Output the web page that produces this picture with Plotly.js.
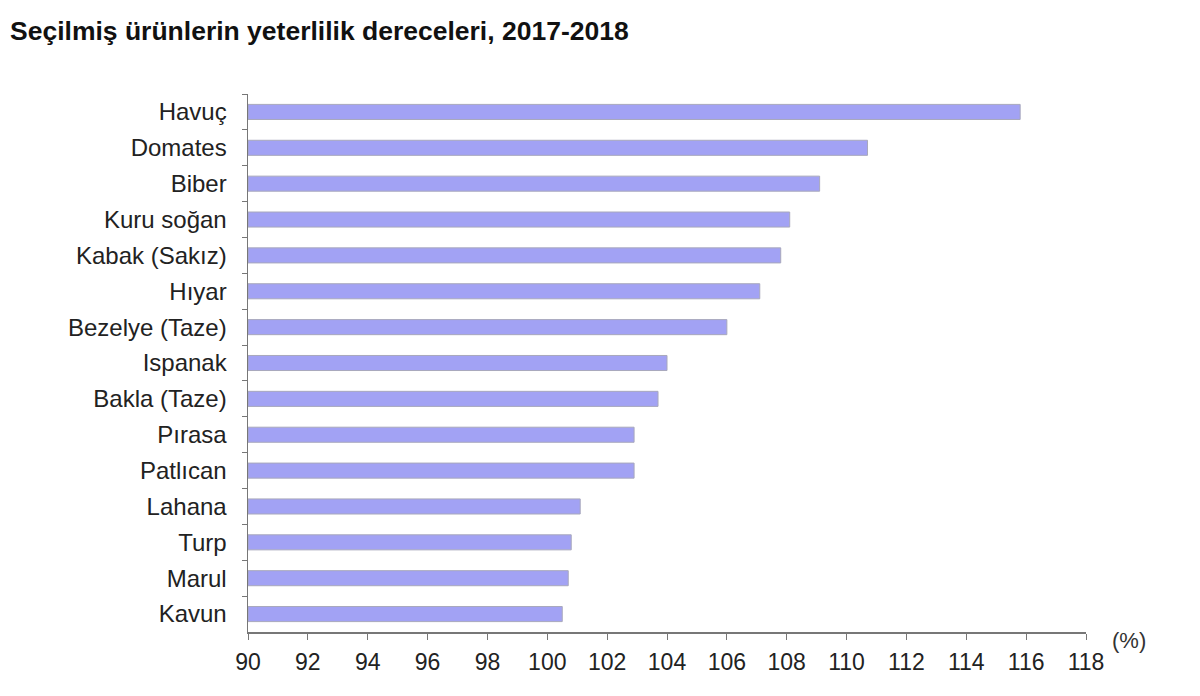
<!DOCTYPE html>
<html>
<head>
<meta charset="utf-8">
<script src="https://cdn.plot.ly/plotly-3.0.1.min.js"></script>
<style>html,body{margin:0;padding:0;background:#fff;}#chart{width:1200px;height:696px;}</style>
</head>
<body>
<div id="chart"></div>
<script>
const categories = ["Havuç","Domates","Biber","Kuru soğan","Kabak (Sakız)","Hıyar","Bezelye (Taze)","Ispanak","Bakla (Taze)","Pırasa","Patlıcan","Lahana","Turp","Marul","Kavun"];
const values = [115.8,110.7,109.1,108.1,107.8,107.1,106.0,104.0,103.7,102.9,102.9,101.1,100.8,100.7,100.5];
const xTicks = [90,92,94,96,98,100,102,104,106,108,110,112,114,116,118];

const baseVal = 90;
const trace = {
  type: 'bar',
  orientation: 'h',
  y: categories,
  x: values.map(v => v - baseVal),
  base: baseVal,
  width: 0.42,
  marker: {color: '#a2a2f4', line: {color: '#a8a8bc', width: 1}},
  hoverinfo: 'y+text',
  text: values.map(String),
  textposition: 'none'
};

const layout = {
  width: 1200, height: 696,
  margin: {l: 248, r: 114, t: 94, b: 64},
  paper_bgcolor: '#fff', plot_bgcolor: '#fff',
  font: {family: 'Liberation Sans, Arial, sans-serif', color: '#222', size: 23},
  title: {text: '<b>Seçilmiş ürünlerin yeterlilik dereceleri, 2017-2018</b>', xref: 'container', x: 10/1200, xanchor: 'left', yref: 'container', y: 1 - 31/696, yanchor: 'middle', font: {size: 26.5, color: '#111'}},
  showlegend: false,
  xaxis: {
    range: [90, 118], tickvals: xTicks, ticktext: xTicks.map(String),
    showgrid: false, zeroline: false, showline: true, linecolor: '#777', linewidth: 1.5,
    ticks: 'outside', ticklen: 6, tickcolor: '#777', tickfont: {size: 23, color: '#222'}, ticklabelstandoff: 3
  },
  yaxis: {
    autorange: 'reversed', type: 'category', tickson: 'boundaries',
    showgrid: false, zeroline: false, showline: true, linecolor: '#777', linewidth: 1.5,
    ticks: 'outside', ticklen: 5, tickcolor: '#777', tickfont: {size: 24, color: '#222'}, ticklabelstandoff: 15
  },
  annotations: [{text: '(%)', xref: 'paper', yref: 'paper', x: (1110-248)/838, y: -0.015, xanchor: 'left', yanchor: 'middle', showarrow: false, font: {size: 22, color: '#333'}}]
};
Plotly.newPlot('chart', [trace], layout, {displayModeBar: false, staticPlot: true});
</script>
</body>
</html>
